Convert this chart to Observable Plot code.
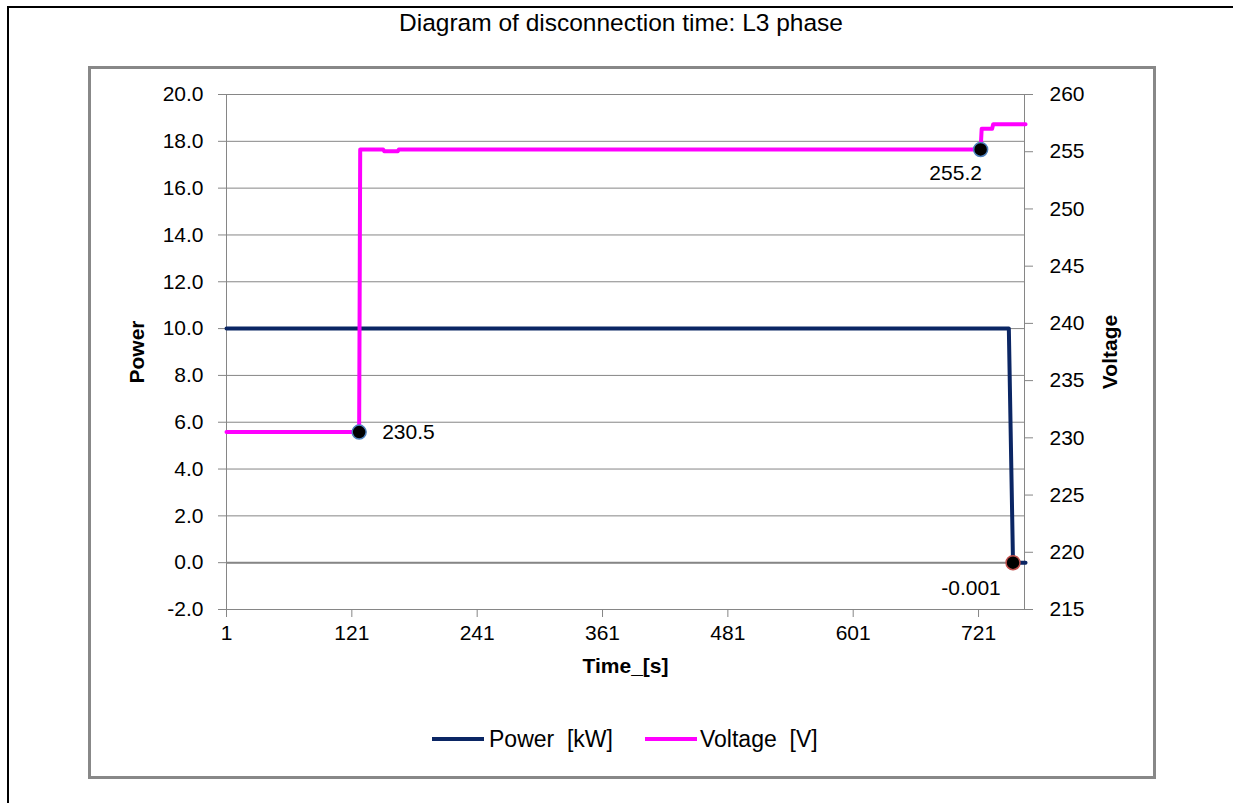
<!DOCTYPE html>
<html>
<head>
<meta charset="utf-8">
<script src="https://cdn.jsdelivr.net/npm/d3@7"></script>
<script src="https://cdn.jsdelivr.net/npm/@observablehq/plot@0.6"></script>
<style>
  html, body { margin: 0; padding: 0; background: #fff; }
  #wrap { position: relative; width: 1233px; height: 803px; overflow: hidden; font-family: "Liberation Sans", Arial, sans-serif; }
  #outer { position: absolute; left: 7px; top: 6px; width: 1300px; height: 900px; border-top: 2px solid #000; border-left: 2px solid #000; box-sizing: border-box; }
  #box { position: absolute; left: 88px; top: 66px; width: 1068px; height: 713px; border: 3px solid #888; box-sizing: border-box; }
  #title { position: absolute; left: 0; width: 1242px; top: 9px; text-align: center; font-size: 24.5px; color: #000; }
  #chart { position: absolute; left: 0; top: 0; }
  .leg { position: absolute; top: 726px; font-size: 23px; color: #000; white-space: pre; line-height: 26px; }
  .sw { position: absolute; height: 4px; top: 737px; }
</style>
</head>
<body>
<div id="wrap">
  <div id="outer"></div>
  <div id="box"></div>
  <div id="title">Diagram of disconnection time: L3 phase</div>
  <div id="chart"></div>
  <div class="sw" style="left:432px; width:52px; background:#0b2664;"></div>
  <div class="leg" style="left:489px;">Power  [kW]</div>
  <div class="sw" style="left:645px; width:52px; background:#ff00ff;"></div>
  <div class="leg" style="left:700px;">Voltage  [V]</div>
</div>
<script>
// ---- data ----
const powerT  = [1, 750, 754, 766];
const powerKW = [10.0, 10.0, -0.001, -0.001];

const voltT = [1, 128, 129, 151, 152, 165, 166, 723, 724, 734, 735, 766];
const voltV = [230.5, 230.5, 255.2, 255.2, 255.05, 255.05, 255.2, 255.2, 257.0, 257.0, 257.4, 257.4];

const xTicks = [1, 121, 241, 361, 481, 601, 721];
const powerTicks = [-2, 0, 2, 4, 6, 8, 10, 12, 14, 16, 18, 20];
const voltTicks = [215, 220, 225, 230, 235, 240, 245, 250, 255, 260];

const annVoltT = [128, 723];
const annVoltV = [230.5, 255.2];
const annVoltLabel = ["230.5", "255.2"];
const annPowerT = [754];
const annPowerV = [-0.001];
const annPowerLabel = ["-0.001"];

// ---- build ----
const vMin = 215, vMax = 260, pMin = -2, pMax = 20;
const vToP = v => (v - vMin) / (vMax - vMin) * (pMax - pMin) + pMin;
const pToV = p => (p - pMin) / (pMax - pMin) * (vMax - vMin) + vMin;

const power = powerT.map((t, i) => ({t, v: powerKW[i]}));
const voltage = voltT.map((t, i) => ({t, v: voltV[i]}));
const annVolt = annVoltT.map((t, i) => ({t, v: annVoltV[i], label: annVoltLabel[i]}));
const annPower = annPowerT.map((t, i) => ({t, v: annPowerV[i], label: annPowerLabel[i]}));

const grid = "#868686";

const chart = Plot.plot({
  width: 1233,
  height: 700,
  marginLeft: 226,
  marginRight: 209,
  marginTop: 94,
  marginBottom: 91,
  x: {type: "linear", domain: [1, 765]},
  y: {domain: [pMin, pMax]},
  style: {background: "transparent", fontFamily: "'Liberation Sans', Arial, sans-serif", fontSize: "21px", color: "#000", overflow: "visible"},
  marks: [
    Plot.gridY(powerTicks, {stroke: grid, strokeOpacity: 1}),
    Plot.ruleY([0], {stroke: grid, strokeWidth: 2}),
    Plot.frame({stroke: grid}),
    Plot.axisY(powerTicks, {anchor: "left", tickSize: 8, tickPadding: 15, stroke: grid, fill: "#000", tickFormat: d => d.toFixed(1), label: null}),
    Plot.axisY(voltTicks.map(vToP), {anchor: "right", tickSize: 8, tickPadding: 17, stroke: grid, fill: "#000", tickFormat: p => String(Math.round(pToV(p))), label: null}),
    Plot.axisX(xTicks, {anchor: "bottom", tickSize: 8, tickPadding: 8, stroke: grid, fill: "#000", tickFormat: d => String(d), label: null}),
    Plot.line(power, {x: "t", y: "v", stroke: "#0b2664", strokeWidth: 4}),
    Plot.line(voltage, {x: "t", y: d => vToP(d.v), stroke: "#ff00ff", strokeWidth: 4}),
    Plot.dot(annVolt, {x: "t", y: d => vToP(d.v), r: 7, fill: "#000", stroke: "#4f81bd", strokeWidth: 1.5}),
    Plot.dot(annPower, {x: "t", y: "v", r: 7, fill: "#000", stroke: "#c0504d", strokeWidth: 1.5}),
    Plot.text([annVolt[0]], {x: "t", y: d => vToP(d.v), text: "label", dx: 23, textAnchor: "start", fill: "#000"}),
    Plot.text([annVolt[1]], {x: "t", y: d => vToP(d.v), text: "label", dx: -25, dy: 24, fill: "#000"}),
    Plot.text(annPower, {x: "t", y: "v", text: "label", dx: -42, dy: 26, fill: "#000"}),
    Plot.text(["Power"], {frameAnchor: "left", dx: -89, rotate: -90, textAnchor: "middle", fontWeight: "bold", fontSize: 21, fill: "#000"}),
    Plot.text(["Voltage"], {frameAnchor: "right", dx: 86, rotate: -90, textAnchor: "middle", fontWeight: "bold", fontSize: 21, fill: "#000"}),
    Plot.text(["Time_[s]"], {frameAnchor: "bottom", dy: 63, fontWeight: "bold", fontSize: 21, fill: "#000"})
  ]
});
document.getElementById("chart").appendChild(chart);
</script>
</body>
</html>
